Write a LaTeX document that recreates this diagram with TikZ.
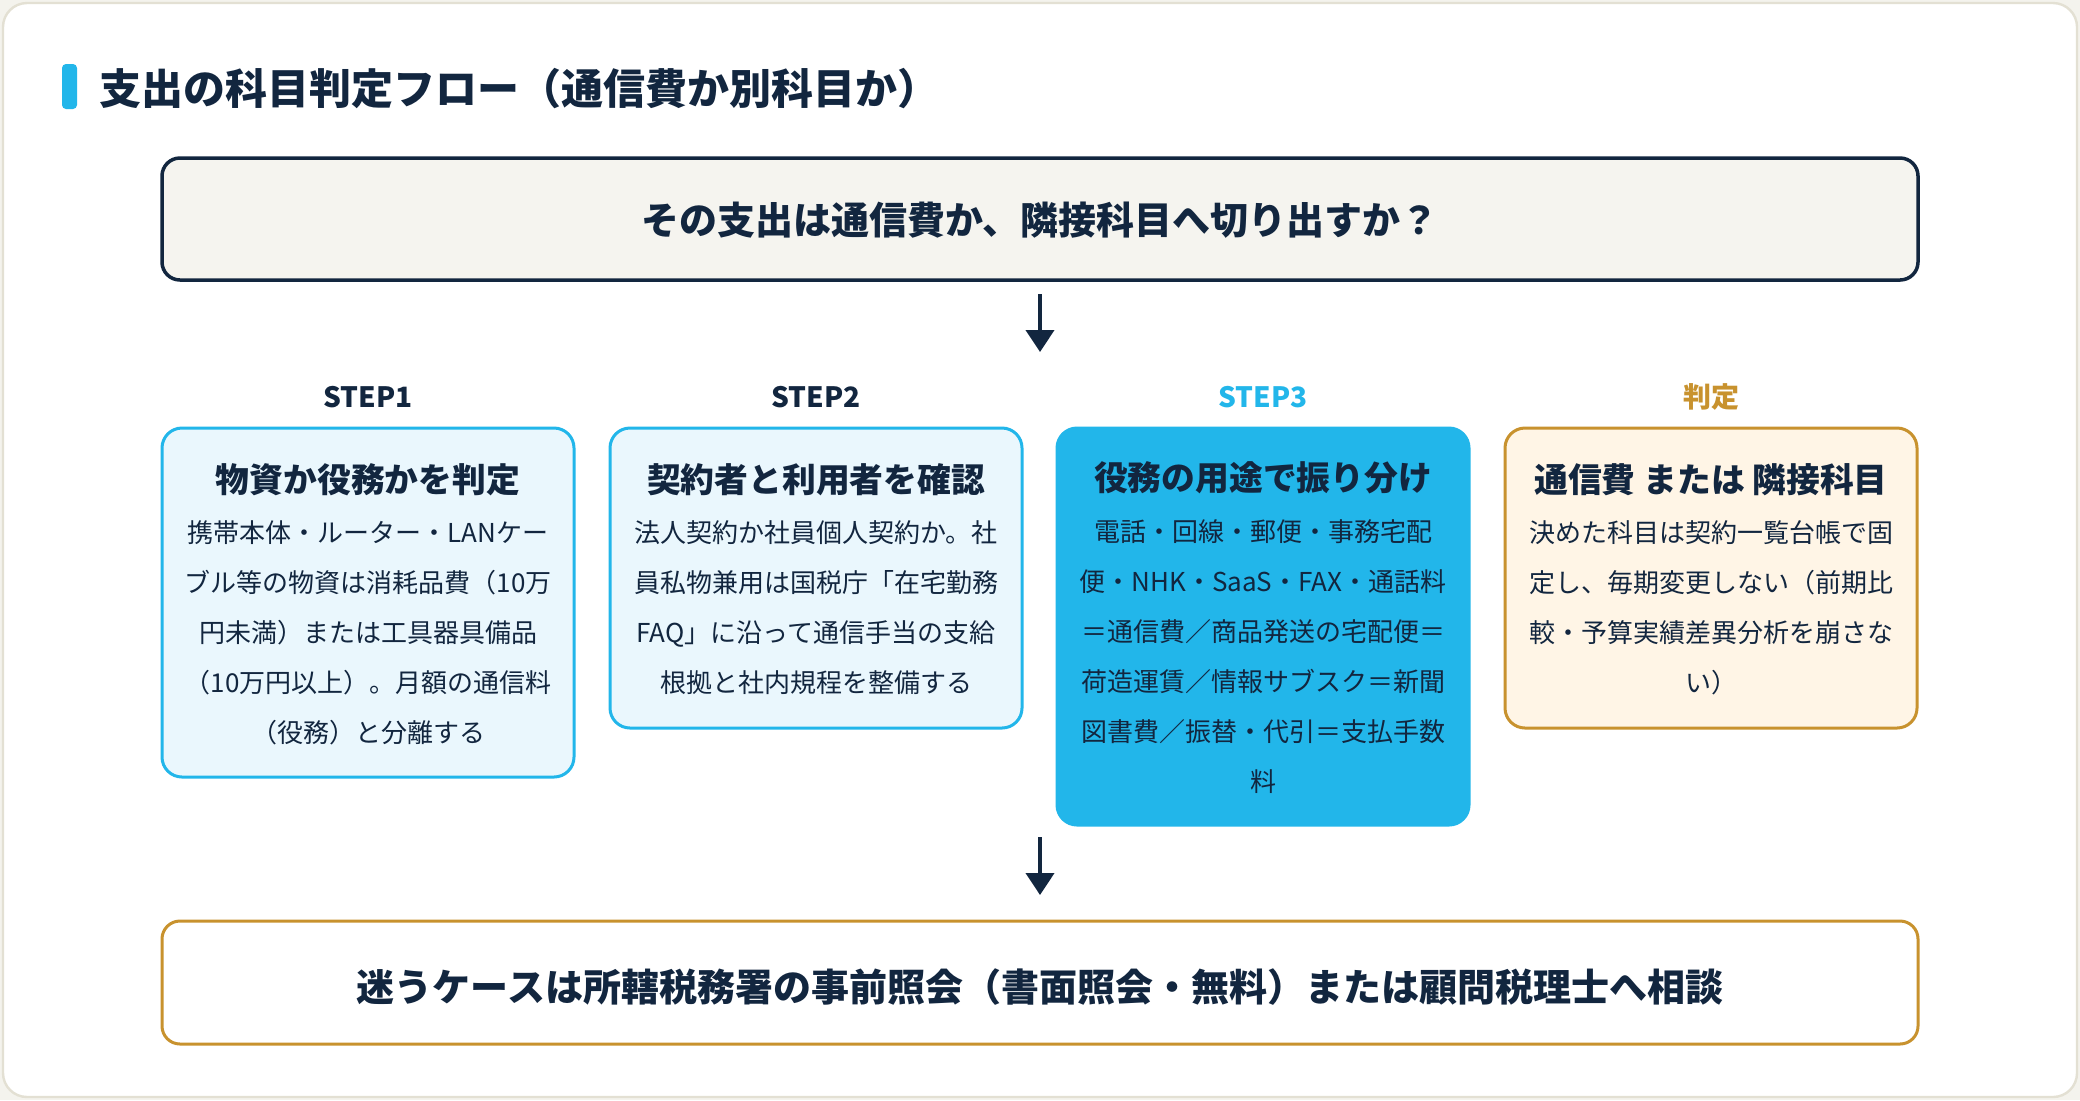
\documentclass[tikz,border=0pt]{standalone}
\usepackage{fontspec}
\setmainfont{Noto Sans CJK JP}
\usetikzlibrary{arrows.meta}
\definecolor{navy}{HTML}{12263F}
\definecolor{sky}{HTML}{22B6EA}
\definecolor{skyfill}{HTML}{EAF7FD}
\definecolor{gold}{HTML}{C8922E}
\definecolor{goldfill}{HTML}{FFF5E6}
\definecolor{qfill}{HTML}{F5F4EF}
\definecolor{cardline}{HTML}{E3E0D3}
\definecolor{outerbg}{HTML}{F4F3ED}
\begin{document}
\begin{tikzpicture}[x=0.5pt,y=-0.5pt,
  every node/.style={inner sep=0pt, text=navy},
  bigbox/.style={draw, rounded corners=9pt, minimum width=878pt, minimum height=61pt},
  stepbox/.style={rounded corners=10pt, line width=1.5pt, minimum width=206pt},
  skybox/.style={stepbox, draw=sky, fill=skyfill},
  cyanbox/.style={stepbox, draw=sky, fill=sky},
  goldbox/.style={stepbox, draw=gold, fill=goldfill},
  steplabel/.style={font=\fontsize{14}{16}\selectfont\bfseries},
  boxtitle/.style={font=\fontsize{16.9}{20}\selectfont\bfseries},
  boxbody/.style={font=\fontsize{13}{25}\selectfont, align=center, anchor=north},
  bigtext/.style={font=\fontsize{19}{22}\selectfont\bfseries},
  arr/.style={draw=navy, line width=2pt, -{Triangle[length=11pt,width=14pt]}}
]
\useasboundingbox (0,0) rectangle (2080,1100);
\fill[outerbg] (0,0) rectangle (2080,1100);
\draw[cardline, fill=white, line width=1.2pt, rounded corners=12pt] (3,3) rectangle (2077,1097);

% title
\fill[sky, rounded corners=2pt] (62,64) rectangle (77,109);
\node[anchor=west, font=\fontsize{21}{24}\selectfont\bfseries] (title) at (99,89) {支出の科目判定フロー（通信費か別科目か）};

% question
\node[bigbox, draw=navy, fill=qfill, line width=1.75pt] (q) at (1040,219) {};
\node[bigtext] (qt) at (1040,220) {その支出は通信費か、隣接科目へ切り出すか？};

\coordinate (a1s) at (1040,294);
\coordinate (a1e) at (1040,352);
\draw[arr] (a1s) -- (a1e);

% step labels
\node[steplabel] (l1) at (368,397) {STEP1};
\node[steplabel] (l2) at (816,397) {STEP2};
\node[steplabel, text=sky] (l3) at (1263,397) {STEP3};
\node[steplabel, text=gold] (l4) at (1711,397) {判定};

% boxes
\node[skybox, minimum height=174.5pt] (b1) at (368,602.5) {};
\node[skybox, minimum height=150pt] (b2) at (816,578) {};
\node[cyanbox, minimum height=198.5pt] (b3) at (1263,626.5) {};
\node[goldbox, minimum height=150pt] (b4) at (1711,578) {};

\node[boxtitle] (t1) at (368,480) {物資か役務かを判定};
\node[boxtitle] (t2) at (816,480) {契約者と利用者を確認};
\node[boxtitle] (t3) at (1263,478) {役務の用途で振り分け};
\node[boxtitle] (t4) at (1711,480) {通信費 または 隣接科目};

\node[boxbody] (d1) at (368,520) {携帯本体・ルーター・LANケー\\ブル等の物資は消耗品費（10万\\円未満）または工具器具備品\\（10万円以上）。月額の通信料\\（役務）と分離する};
\node[boxbody] (d2) at (816,520) {法人契約か社員個人契約か。社\\員私物兼用は国税庁「在宅勤務\\FAQ」に沿って通信手当の支給\\根拠と社内規程を整備する};
\node[boxbody] (d3) at (1263,519) {電話・回線・郵便・事務宅配\\便・NHK・SaaS・FAX・通話料\\＝通信費／商品発送の宅配便＝\\荷造運賃／情報サブスク＝新聞\\図書費／振替・代引＝支払手数\\料};
\node[boxbody] (d4) at (1711,520) {決めた科目は契約一覧台帳で固\\定し、毎期変更しない（前期比\\較・予算実績差異分析を崩さな\\い）};

\coordinate (a2s) at (1040,837);
\coordinate (a2e) at (1040,895);
\draw[arr] (a2s) -- (a2e);

% bottom
\node[bigbox, draw=gold, fill=white, line width=1.5pt, minimum height=61.5pt] (bt) at (1040,982.5) {};
\node[bigtext] (btt) at (1040,987) {迷うケースは所轄税務署の事前照会（書面照会・無料）または顧問税理士へ相談};
\end{tikzpicture}
\end{document}
